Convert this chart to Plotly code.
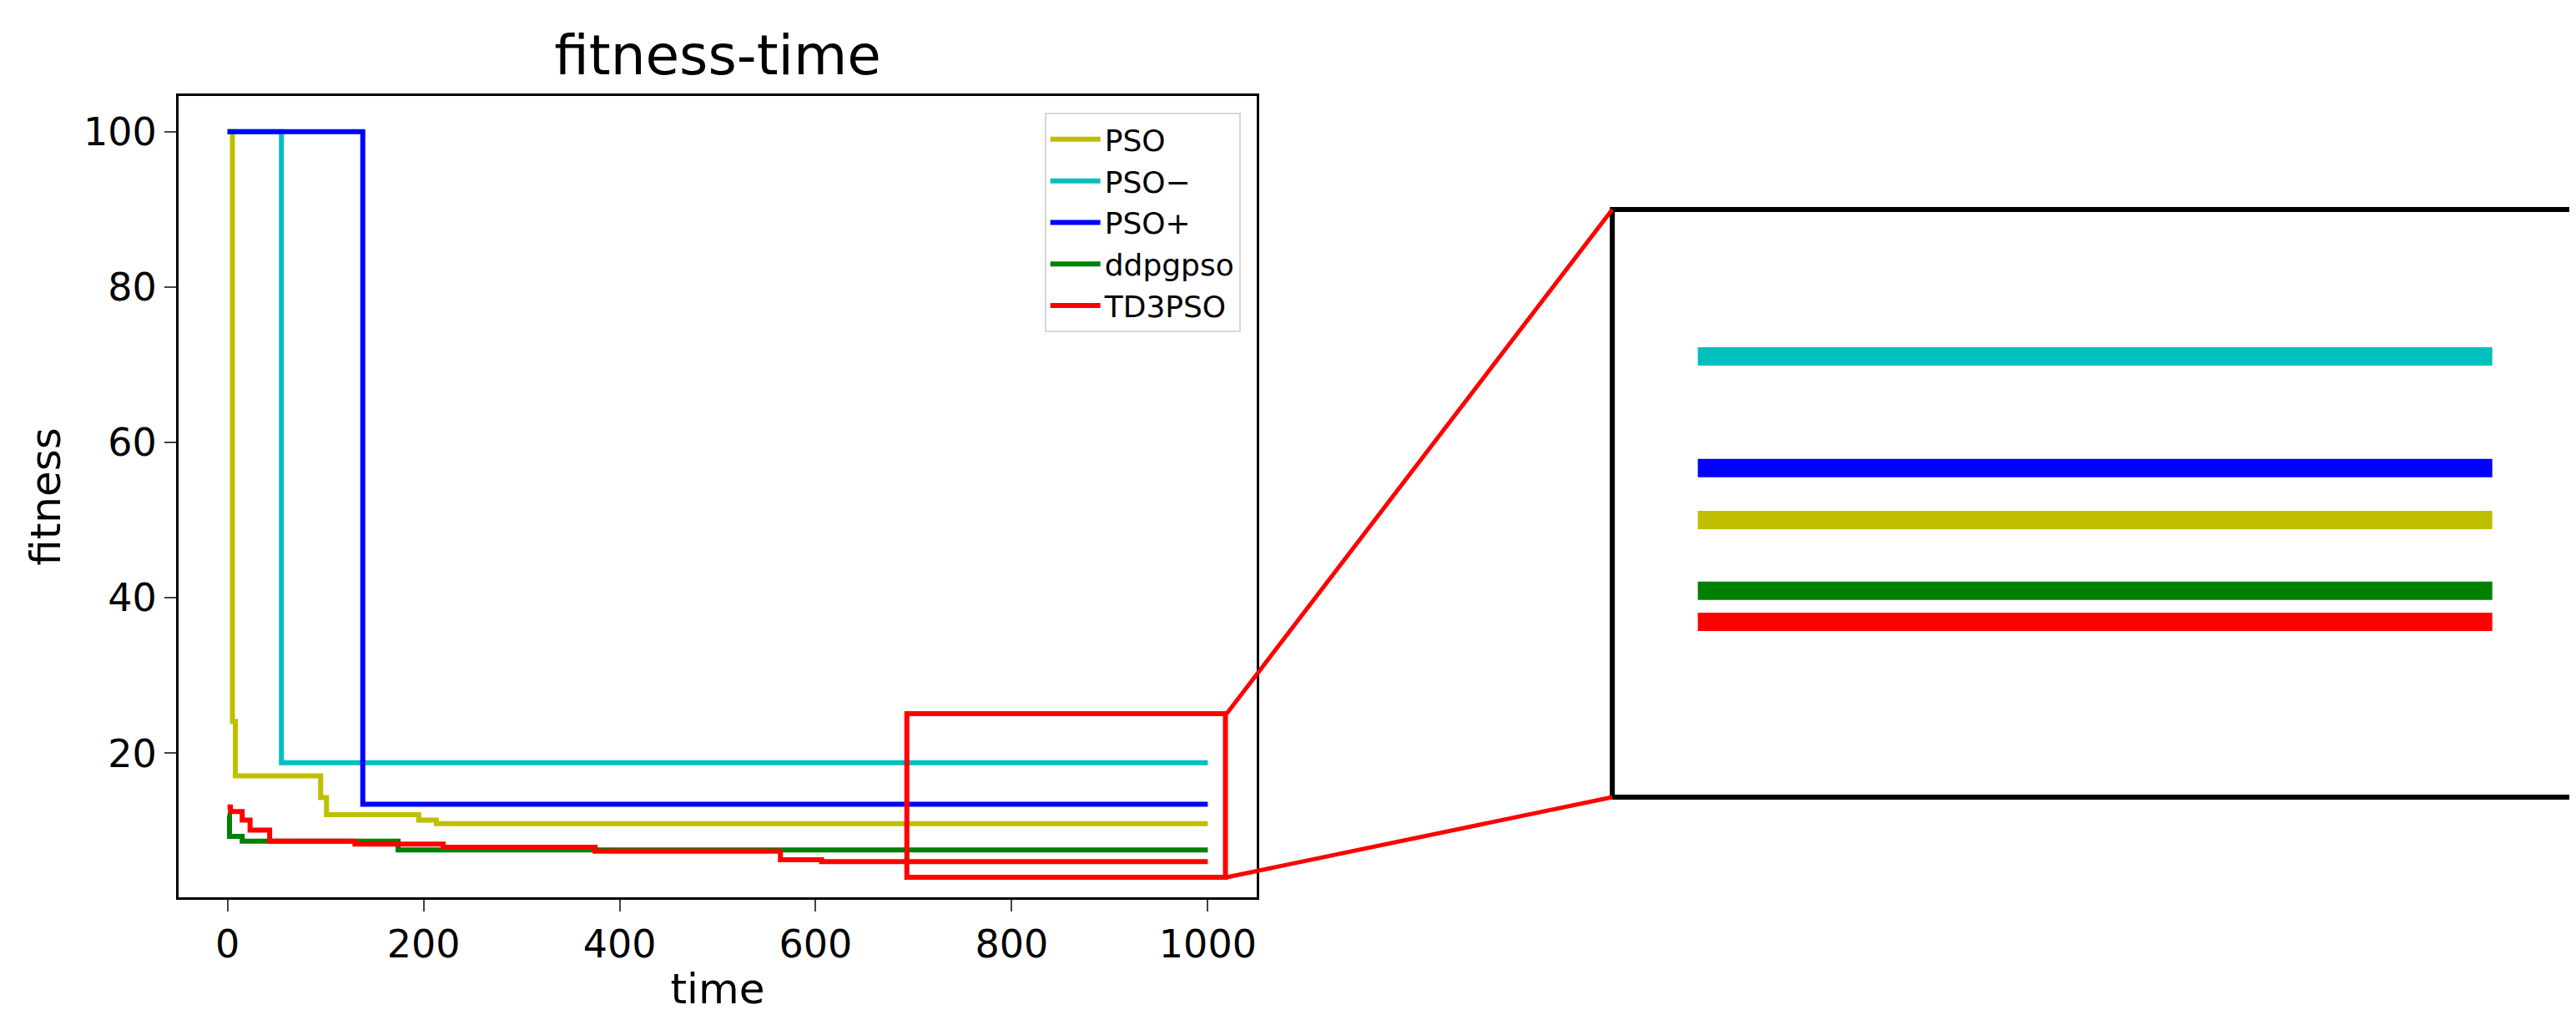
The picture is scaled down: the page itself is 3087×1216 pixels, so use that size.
import plotly.graph_objects as go

# Step data (time, fitness)
pso_t = [0, 5, 8, 95, 101, 103, 195, 213, 1000]
pso_f = [100, 24.1, 17.1, 14.3, 12.1, 12.1, 11.4, 10.95, 10.95]
psom_t = [0, 55, 1000]
psom_f = [100, 18.8, 18.8]
psop_t = [0, 138, 1000]
psop_f = [100, 13.45, 13.45]
ddpg_t = [0, 2, 15, 174, 1000]
ddpg_f = [12.0, 9.3, 8.7, 7.56, 7.56]
td3_t = [0, 3, 15, 23, 43, 130, 220, 375, 564, 606, 1000]
td3_f = [13.1, 12.5, 11.4, 10.1, 8.7, 8.3, 7.9, 7.4, 6.3, 6.07, 6.07]

names = ["PSO", "PSO\u2212", "PSO+", "ddpgpso", "TD3PSO"]
colors = ["#bfbf00", "#00bfbf", "#0000ff", "#008000", "#ff0000"]
series = [(pso_t, pso_f), (psom_t, psom_f), (psop_t, psop_f), (ddpg_t, ddpg_f), (td3_t, td3_f)]

zoom_x0 = 700

fig = go.Figure()
for (t, f), n, c in zip(series, names, colors):
    fig.add_trace(go.Scatter(x=t, y=f, mode="lines", name=n, line=dict(color=c, width=6, shape="hv"),
                             xaxis="x", yaxis="y"))
for (t, f), n, c in zip(series, names, colors):
    zt = [zoom_x0, t[-1]]
    last = [v for tt, v in zip(t, f) if tt <= zoom_x0][-1]
    fig.add_trace(go.Scatter(x=zt, y=[last, f[-1]], mode="lines", showlegend=False,
                             line=dict(color=c, width=22), xaxis="x2", yaxis="y2"))

font = "DejaVu Sans"
fig.update_layout(
    width=3087, height=1216, paper_bgcolor="white", plot_bgcolor="white",
    margin=dict(l=0, r=0, t=0, b=0),
    font=dict(family=font, color="black"),
    title=dict(text="fitness-time", x=0.276, xanchor="center", y=0.952, yanchor="middle",
               font=dict(size=66, family=font)),
    xaxis=dict(domain=[0.0667, 0.4853], range=[-50, 1050], tickvals=[0, 200, 400, 600, 800, 1000],
               ticks="outside", ticklen=14, tickwidth=2, showgrid=False, zeroline=False,
               showline=True, linecolor="black", linewidth=3, mirror=True,
               tickfont=dict(size=46), title=dict(text="time", font=dict(size=50), standoff=10),
               anchor="y"),
    yaxis=dict(domain=[0.1225, 0.912], range=[1.46, 104.6], tickvals=[20, 40, 60, 80, 100],
               ticks="outside", ticklen=14, tickwidth=2, showgrid=False, zeroline=False,
               showline=True, linecolor="black", linewidth=3, mirror=True,
               tickfont=dict(size=46), title=dict(text="fitness", font=dict(size=50), standoff=12),
               anchor="x"),
    xaxis2=dict(domain=[0.6233, 0.9975], range=[667.7, 1031.7], visible=False, anchor="y2"),
    yaxis2=dict(domain=[0.2212, 0.8002], range=[-2.34, 25.85], visible=False, anchor="x2"),
    legend=dict(x=0.479, y=0.8956, xanchor="right", yanchor="top", bgcolor="white",
                bordercolor="#d8d8d8", borderwidth=2, font=dict(size=36, family=font),
                tracegroupgap=0, itemwidth=60),
)

# zoom rectangle on main axes
fig.add_shape(type="rect", xref="x", yref="y", x0=693, x1=1018, y0=4.05, y1=25.1,
              line=dict(color="red", width=6))
# inset border
fig.add_shape(type="rect", xref="paper", yref="paper", x0=0.6233, x1=0.9975, y0=0.2212, y1=0.8002,
              line=dict(color="black", width=6))
# connectors
fig.add_shape(type="line", xref="paper", yref="paper", x0=1462/3087, y0=1-847/1216, x1=0.6233, y1=0.8002,
              line=dict(color="red", width=5))
fig.add_shape(type="line", xref="paper", yref="paper", x0=1462/3087, y0=1-1043/1216, x1=0.6233, y1=0.2212,
              line=dict(color="red", width=5))

fig.write_html("out.html")
